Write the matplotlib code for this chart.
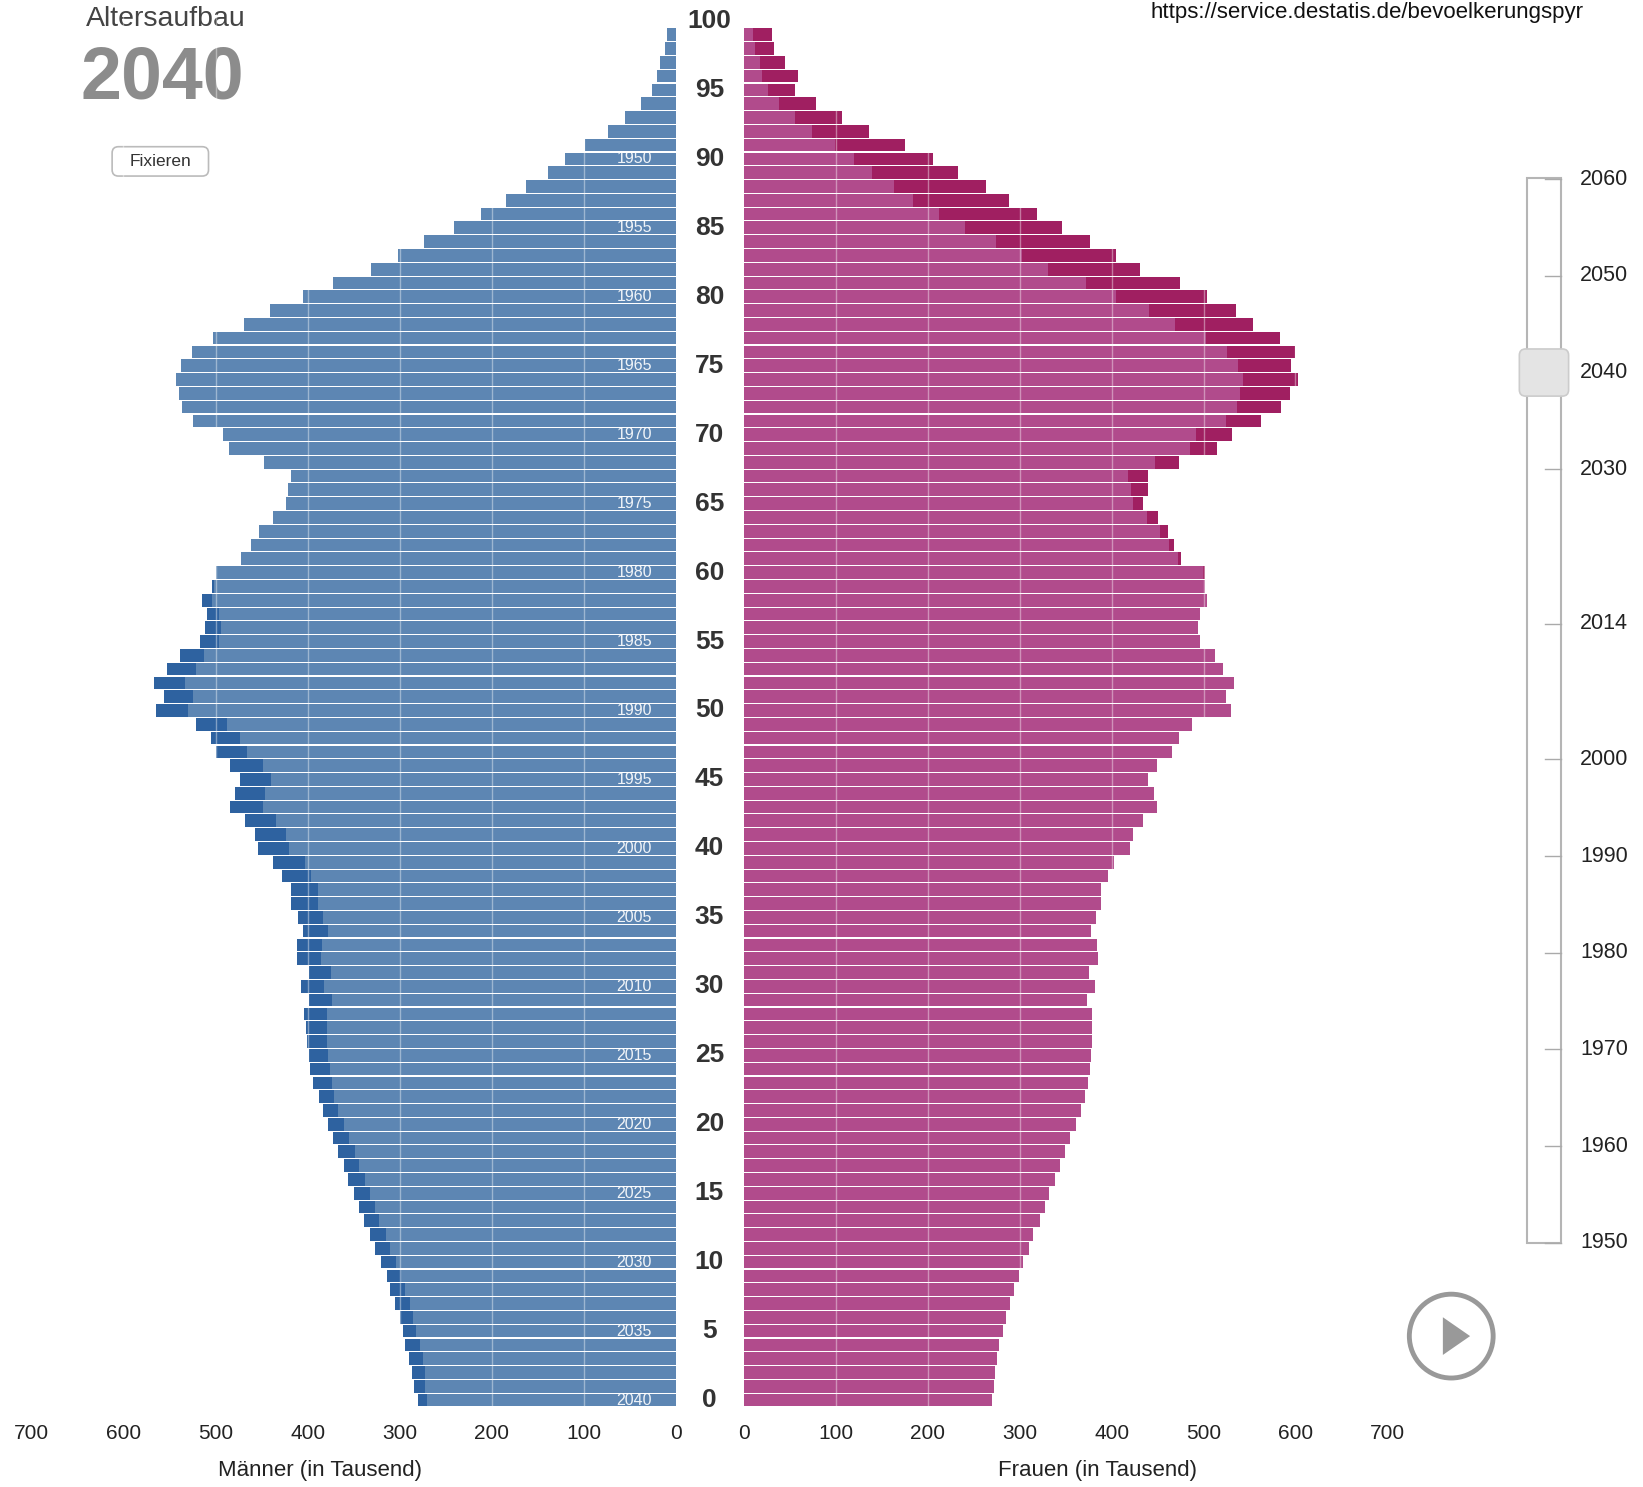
import matplotlib
matplotlib.use("Agg")
import matplotlib.pyplot as plt
import numpy as np
from matplotlib.patches import Rectangle, FancyBboxPatch, Circle, Polygon
from matplotlib.transforms import blended_transform_factory

plt.rcParams["font.family"] = ["Liberation Sans", "DejaVu Sans"]

# ---------------------------------------------
# Data (in thousands), age 0 .. 99, year 2040
# ---------------------------------------------
year = 2040
ages = list(range(0, 100))

men = [280, 284, 287, 290, 294, 296, 300, 305, 310, 314,
       320, 327, 332, 339, 344, 350, 356, 361, 367, 372,
       378, 383, 388, 394, 397, 399, 401, 402, 404, 399,
       407, 399, 411, 411, 405, 410, 418, 418, 428, 438,
       454, 457, 468, 484, 479, 473, 484, 499, 505, 521,
       565, 556, 567, 553, 539, 517, 512, 509, 515, 504,
       499, 472, 462, 453, 438, 423, 421, 418, 447, 485,
       492, 524, 536, 540, 543, 538, 526, 503, 469, 441,
       405, 372, 331, 302, 274, 241, 212, 184, 163, 139,
       120, 99, 74, 55, 38, 26, 20, 17, 12, 10]

women = [270, 272, 273, 275, 278, 282, 285, 289, 294, 299,
         304, 310, 315, 322, 327, 332, 338, 344, 349, 355,
         361, 367, 371, 374, 376, 378, 379, 379, 379, 373,
         382, 375, 385, 384, 378, 383, 389, 389, 396, 403,
         420, 423, 434, 449, 446, 440, 449, 466, 473, 488,
         530, 524, 533, 521, 513, 496, 494, 496, 504, 502,
         502, 476, 468, 461, 451, 434, 440, 440, 473, 515,
         531, 563, 584, 594, 603, 595, 599, 583, 554, 535,
         504, 474, 431, 405, 376, 346, 319, 288, 263, 233,
         206, 175, 136, 107, 78, 56, 59, 45, 33, 30]

age_ticks = list(range(0, 101, 5))
cohort_ages = list(range(0, 91, 5))
x_ticks = list(range(0, 701, 100))
slider_years = [1950, 1960, 1970, 1980, 1990, 2000, 2014, 2030, 2040, 2050, 2060]

MEN_LIGHT = "#5d86b3"
MEN_DARK = "#2e62a0"
WOMEN_LIGHT = "#b14b8c"
WOMEN_DARK = "#a01f61"

# layout units of the reference picture
W, H = 1568, 1419


def fx(x):
    return x / W


def fy(y):
    return 1 - y / H


fig = plt.figure(figsize=(16.43, 14.87), dpi=100)

# background layer for the page decorations
bg = fig.add_axes([0, 0, 1, 1])
bg.set_xlim(0, W)
bg.set_ylim(H, 0)
bg.axis("off")

bottom = fy(1342.6)
top = fy(13.4)
axL = fig.add_axes([fx(30), bottom, fx(645) - fx(30), top - bottom])
axR = fig.add_axes([fx(710), bottom, fx(1324) - fx(710), top - bottom])

men = np.array(men)
women = np.array(women)
common = np.minimum(men, women)

# =====================================
# Bars
# =====================================
bar_h = 0.92
axL.barh(ages, men, height=bar_h, color=MEN_DARK, linewidth=0)
axL.barh(ages, common, height=bar_h, color=MEN_LIGHT, linewidth=0)
axR.barh(ages, women, height=bar_h, color=WOMEN_DARK, linewidth=0)
axR.barh(ages, common, height=bar_h, color=WOMEN_LIGHT, linewidth=0)

for ax in (axL, axR):
    ax.set_ylim(-0.5, 100.5)
    ax.set_xticks(x_ticks)
    ax.set_yticks([])
    ax.tick_params(axis="x", length=0, pad=12, labelsize=15, labelcolor="#222222")
    for s in ax.spines.values():
        s.set_visible(False)
    ax.patch.set_alpha(0)
    for v in x_ticks[1:]:
        ax.axvline(v, color="white", alpha=0.4, lw=1, zorder=3)

axL.set_xlim(700, 0)
axR.set_xlim(0, 700)

# age labels in the middle
trans = blended_transform_factory(fig.transFigure, axL.transData)
for a in age_ticks:
    axL.text(fx(677), a, str(a), transform=trans, ha="center", va="center",
             fontsize=19, fontweight="bold", color="#333333")

# birth cohort labels inside the men's bars
for a in cohort_ages:
    axL.text(26, a, str(year - a), ha="right", va="center", fontsize=11.5,
             color="white", alpha=0.9, zorder=4)

# =====================================
# Texts / decorations
# =====================================
bg.text(82, 18, "Altersaufbau", fontsize=20.5, color="#444444", ha="left", va="center")
bg.text(77, 75, str(year), fontsize=53, fontweight="bold", color="#8c8c8c",
        ha="left", va="center")

bg.add_patch(FancyBboxPatch((107, 140), 92, 28,
                            boxstyle="round,pad=0,rounding_size=6",
                            fc="white", ec="#bbbbbb", lw=1.2))
bg.text(153, 154, "Fixieren", fontsize=12.5, color="#333333", ha="center", va="center")

bg.text(1098, 12, "https://service.destatis.de/bevoelkerungspyr", fontsize=16,
        color="#111111", ha="left", va="center")

bg.text(305, 1403, "Männer (in Tausend)", fontsize=16, color="#222222",
        ha="center", va="center")
bg.text(1047, 1403, "Frauen (in Tausend)", fontsize=16, color="#222222",
        ha="center", va="center")

# slider
y0, y1 = 1186, 171


def slider_y(yr):
    return y0 - (yr - 1950) * (y0 - y1) / (2060 - 1950)


bg.add_patch(Rectangle((1457, 170), 33, 1016, fc="white", ec="#b5b5b5", lw=1.5))
for yr in slider_years:
    yy = slider_y(yr)
    bg.plot([1474, 1490], [yy, yy], color="#aaaaaa", lw=1)
    bg.text(1508, yy, str(yr), fontsize=15.5, color="#222222", ha="left", va="center")
bg.add_patch(FancyBboxPatch((1450, 333), 47, 45,
                            boxstyle="round,pad=0,rounding_size=6",
                            fc="#e4e4e4", ec="#cccccc", lw=1.2, zorder=5))

# play button
bg.add_patch(Circle((1385, 1275), 40, fill=False, ec="#999999", lw=3.5))
bg.add_patch(Polygon([(1377, 1257), (1377, 1293), (1403, 1275)], closed=True,
                     fc="#999999", ec="none"))

fig.savefig("out.png", dpi=100)
